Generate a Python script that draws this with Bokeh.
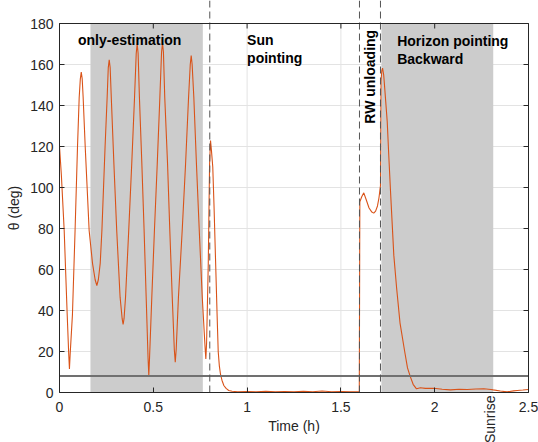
import math
from bokeh.plotting import figure
from bokeh.models import Range1d, FixedTicker
from bokeh.core.properties import value
from bokeh.embed import file_html
from bokeh.resources import INLINE

# ---------------- data ----------------
time_h = [
    0.000, 0.010, 0.025, 0.041, 0.049, 0.053, 0.057, 0.069, 0.083, 0.096, 0.105, 0.111, 0.116, 0.121,
    0.126, 0.137, 0.158, 0.176, 0.190, 0.199, 0.207, 0.217, 0.226, 0.243, 0.254, 0.260, 0.265, 0.270,
    0.276, 0.290, 0.305, 0.323, 0.334, 0.339, 0.344, 0.352, 0.369, 0.385, 0.400, 0.409, 0.414, 0.419,
    0.426, 0.439, 0.451, 0.462, 0.472, 0.476, 0.480, 0.492, 0.506, 0.521, 0.535, 0.544, 0.549, 0.554,
    0.561, 0.576, 0.588, 0.601, 0.612, 0.617, 0.622, 0.634, 0.654, 0.672, 0.688, 0.697, 0.702, 0.707,
    0.716, 0.730, 0.745, 0.761, 0.776, 0.780, 0.784, 0.793, 0.800, 0.805, 0.810, 0.817, 0.824, 0.832,
    0.840, 0.846, 0.852, 0.858, 0.866, 0.876, 0.888, 0.902, 0.920, 0.950, 1.000, 1.050, 1.100, 1.150,
    1.200, 1.250, 1.300, 1.350, 1.400, 1.450, 1.500, 1.550, 1.598, 1.601, 1.611, 1.622, 1.635, 1.650,
    1.665, 1.675, 1.685, 1.695, 1.703, 1.711, 1.714, 1.718, 1.722, 1.728, 1.734, 1.747, 1.755, 1.764,
    1.773, 1.782, 1.797, 1.815, 1.840, 1.855, 1.869, 1.885, 1.903, 1.924, 1.950, 1.995, 2.040, 2.084,
    2.130, 2.173, 2.220, 2.262, 2.300, 2.312, 2.350, 2.386, 2.420, 2.440, 2.470, 2.500,
]
theta_deg = [
    120.0, 106.0, 79.0, 38.0, 19.0, 11.5, 19.0, 38.0, 79.0, 120.0, 144.0, 153.0, 156.3, 153.0,
    144.0, 120.0, 79.0, 63.0, 55.0, 52.2, 55.0, 63.0, 79.0, 120.0, 144.0, 158.5, 162.3, 158.5,
    144.0, 111.5, 79.0, 46.5, 36.0, 33.2, 36.0, 46.5, 79.0, 111.5, 144.0, 165.5, 170.1, 165.5,
    144.0, 111.5, 79.0, 46.5, 17.0, 8.3, 17.0, 46.5, 79.0, 111.5, 144.0, 166.0, 170.4, 166.0,
    144.0, 111.5, 79.0, 46.5, 21.0, 14.8, 21.0, 46.5, 79.0, 111.5, 144.0, 160.0, 164.4, 160.0,
    144.0, 111.5, 79.0, 46.5, 22.0, 16.4, 24.0, 62.8, 111.5, 122.9, 118.0, 110.0, 90.0, 64.0,
    38.0, 20.0, 13.0, 9.0, 6.0, 3.4, 2.0, 1.0, 0.6, 0.4, 0.5, 0.3, 0.6, 0.4,
    0.5, 0.3, 0.6, 0.4, 0.7, 0.4, 0.5, 0.3, 0.4, 93.0, 95.5, 97.4, 94.0, 90.0,
    88.0, 87.5, 88.5, 91.0, 95.0, 101.0, 152.0, 157.0, 158.2, 155.0, 148.0, 132.0, 116.0, 99.0,
    83.0, 67.0, 51.0, 34.0, 20.0, 12.0, 8.0, 4.0, 1.8, 2.3, 2.0, 2.1, 1.6, 1.3,
    1.6, 1.5, 1.7, 1.8, 1.5, 1.3, 0.7, 0.3, 0.8, 1.0, 1.2, 1.5,
]
threshold_deg = 8
phase_boundaries_h = [0.801, 1.599, 1.711]
shaded_start_h = [0.165, 1.716]
shaded_end_h = [0.764, 2.312]
sunrise_h = 2.297

x_ticks = [0, 0.5, 1, 1.5, 2, 2.5]
x_tick_labels = ["0", "0.5", "1", "1.5", "2", "2.5"]
y_ticks = [0, 20, 40, 60, 80, 100, 120, 140, 160, 180]
y_tick_labels = ["0", "20", "40", "60", "80", "100", "120", "140", "160", "180"]

x_lo, x_hi = 0, 2.5
y_lo, y_hi = 0, 180

# ---------------- layout (pixels) ----------------
W, H = 538, 442
BOX_L, BOX_R, BOX_T, BOX_B = 59, 528, 23, 392
PX_X = (BOX_R - BOX_L) / (x_hi - x_lo)
PX_Y = (BOX_B - BOX_T) / (y_hi - y_lo)
view_x = (x_lo - BOX_L / PX_X, x_hi + (W - BOX_R) / PX_X)
view_y = (y_lo - (H - BOX_B) / PX_Y, y_hi + BOX_T / PX_Y)

# ---------------- styles ----------------
FONT = "Liberation Sans"
AX = "#262626"
GRID = "#e3e3e3"
TICK_PX = 5

p = figure(width=W, height=H, output_backend="svg", toolbar_location=None,
           x_range=Range1d(*view_x), y_range=Range1d(*view_y),
           min_border=0, min_border_left=0, min_border_right=0,
           min_border_top=0, min_border_bottom=0)
p.outline_line_color = None
p.background_fill_color = "white"
p.border_fill_color = "white"
p.xgrid.visible = False
p.ygrid.visible = False

# grid lines inside the axes box
inner_x = [t for t in x_ticks if x_lo < t < x_hi]
p.segment(x0=inner_x, y0=[y_lo] * len(inner_x), x1=inner_x, y1=[y_hi] * len(inner_x),
          line_color=GRID, line_width=1)
inner_y = [t for t in y_ticks if y_lo < t < y_hi]
p.segment(x0=[x_lo] * len(inner_y), y0=inner_y, x1=[x_hi] * len(inner_y), y1=inner_y,
          line_color=GRID, line_width=1)

# shaded phases
p.quad(left=shaded_start_h, right=shaded_end_h, bottom=y_lo, top=y_hi,
       fill_color="#cccccc", line_color=None)

# curve
p.line(time_h, theta_deg, line_color="#D95319", line_width=1.1)

# threshold
p.line([x_lo, x_hi], [threshold_deg, threshold_deg], line_color="#707070", line_width=2)

# phase boundaries (reach above the axes box, to the top of the picture)
n = len(phase_boundaries_h)
p.segment(x0=phase_boundaries_h, y0=[y_lo] * n, x1=phase_boundaries_h, y1=[view_y[1]] * n,
          line_color="#555555", line_width=1, line_dash="7 4")

# top and right box edges with inward ticks
p.line([x_lo, x_hi], [y_hi, y_hi], line_color=AX, line_width=1)
p.line([x_hi, x_hi], [y_lo, y_hi], line_color=AX, line_width=1)
p.segment(x0=x_ticks, y0=[y_hi] * len(x_ticks), x1=x_ticks,
          y1=[y_hi - TICK_PX / PX_Y] * len(x_ticks), line_color=AX, line_width=1)
p.segment(x0=[x_hi] * len(y_ticks), y0=y_ticks, x1=[x_hi - TICK_PX / PX_X] * len(y_ticks),
          y1=y_ticks, line_color=AX, line_width=1)

# axes (drawn at fixed data locations, so the frame fills the picture)
def style_axis(ax):
    ax.axis_line_color = AX
    ax.major_tick_line_color = AX
    ax.major_tick_in = TICK_PX
    ax.major_tick_out = 0
    ax.minor_tick_line_color = None
    ax.major_label_text_font = FONT
    ax.major_label_text_font_size = "14px"
    ax.major_label_text_color = AX
    ax.axis_label_text_font = FONT
    ax.axis_label_text_font_size = "14px"
    ax.axis_label_text_font_style = "normal"
    ax.axis_label_text_color = AX

xa = p.xaxis[0]
style_axis(xa)
xa.fixed_location = y_lo
xa.bounds = (x_lo, x_hi)
xa.ticker = FixedTicker(ticks=x_ticks)
xa.major_label_overrides = {t: s for t, s in zip(x_ticks, x_tick_labels)}
xa.major_label_standoff = 9
xa.axis_label = "Time (h)"
xa.axis_label_standoff = 3

ya = p.yaxis[0]
style_axis(ya)
ya.fixed_location = x_lo
ya.bounds = (y_lo, y_hi)
ya.ticker = FixedTicker(ticks=y_ticks)
ya.major_label_overrides = {t: s for t, s in zip(y_ticks, y_tick_labels)}
ya.major_label_standoff = 6
ya.axis_label = "θ (deg)"
ya.axis_label_standoff = 5

# annotations
bold = dict(text_font=value(FONT), text_font_style="bold", text_font_size="14px",
            text_color="black", text_baseline="alphabetic")
p.text(x=[0.374], y=[171.8], text=["only-estimation"], text_align="center", **bold)
p.text(x=[1.0, 1.0, 1.80, 1.80], y=[171.8, 163.3, 171.4, 162.8],
       text=["Sun", "pointing", "Horizon pointing", "Backward"], text_align="left", **bold)
p.text(x=[1.656], y=[176.9], text=["RW unloading"], angle=math.pi / 2,
       text_align="right", text_font=value(FONT), text_font_style="bold",
       text_font_size="14px", text_color="black", text_baseline="middle")
p.text(x=[sunrise_h], y=[-1.5], text=["Sunrise"], angle=math.pi / 2,
       text_align="right", text_baseline="middle", text_font=value(FONT),
       text_font_size="14px", text_color=AX)

open("out.html", "w").write(file_html(p, INLINE))
